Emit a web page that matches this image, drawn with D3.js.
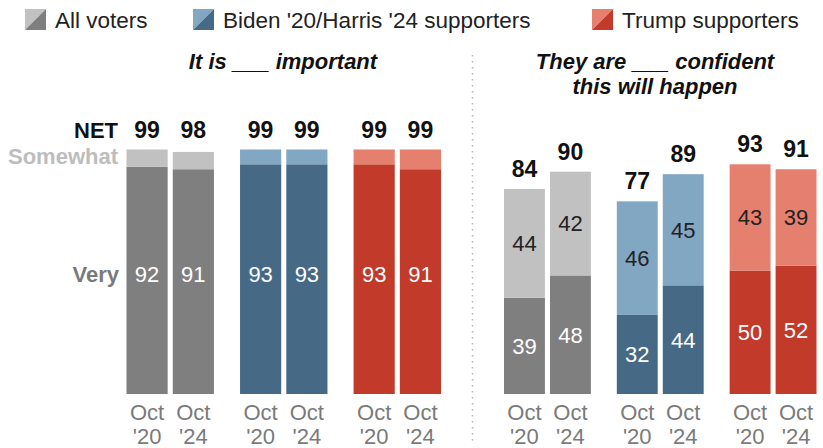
<!DOCTYPE html>
<html>
<head>
<meta charset="utf-8">
<script src="https://cdn.jsdelivr.net/npm/d3@7"></script>
<style>
  html, body { margin: 0; padding: 0; background: #fff; }
  svg { display: block; font-family: "Liberation Sans", Arial, sans-serif; }
</style>
</head>
<body>
<svg id="chart" width="823" height="448"></svg>
<script>
// Groups of respondents and survey waves
const groups = ["All voters", "Biden '20/Harris '24 supporters", "Trump supporters"];
const waves = ["Oct '20", "Oct '24"];

// "It is ___ important"
const importantVery = [[92, 91], [93, 93], [93, 91]];
const importantSomewhat = [[7, 7], [6, 6], [6, 8]];
const importantNet = [[99, 98], [99, 99], [99, 99]];

// "They are ___ confident this will happen"
const confidentVery = [[39, 48], [32, 44], [50, 52]];
const confidentSomewhat = [[44, 42], [46, 45], [43, 39]];
const confidentNet = [[84, 90], [77, 89], [93, 91]];

// Colour per group: [dark = Very, light = Somewhat]
const colors = [["#7f7f7f", "#c1c1c1"], ["#466a86", "#82a7c2"], ["#c13a2a", "#e5806f"]];

const svg = d3.select("#chart");
const FONT = 22;
const LEGEND_FONT = 22.5;
const NET_FONT = 23;

const y = d3.scaleLinear().domain([0, 100]).range([394, 147]);

// Legend
const legendX = [25, 193, 592];
const legend = svg.append("g");
groups.forEach((g, i) => {
  const lg = legend.append("g").attr("transform", `translate(${legendX[i]},9)`);
  lg.append("path").attr("d", "M0,0H21L0,21Z").attr("fill", colors[i][1]);
  lg.append("path").attr("d", "M21,0V21H0Z").attr("fill", colors[i][0]);
  lg.append("text").attr("x", 30).attr("y", 18.5).attr("font-size", LEGEND_FONT)
    .attr("fill", "#222").text(g);
});

// Dotted divider between the two panels
svg.append("line")
  .attr("x1", 472.5).attr("x2", 472.5).attr("y1", 55).attr("y2", 442)
  .attr("stroke", "#b5b5b5").attr("stroke-width", 1.5).attr("stroke-dasharray", "1.5,4.5");

function panel(opts) {
  const xg = d3.scaleBand().domain(groups).range(opts.range).paddingInner(0.23).paddingOuter(0);
  const xw = d3.scaleBand().domain(waves).range([0, xg.bandwidth()]).paddingInner(0.11);
  const g = svg.append("g");

  // title
  const t = g.append("text").attr("text-anchor", "middle")
    .attr("font-size", FONT).attr("font-weight", "bold").attr("font-style", "italic")
    .attr("fill", "#111");
  opts.title.forEach((line, i) => {
    t.append("tspan").attr("x", opts.titleX).attr("y", 69 + i * 24.5).text(line);
  });

  groups.forEach((grp, gi) => {
    waves.forEach((w, wi) => {
      const x0 = xg(grp) + xw(w);
      const bw = xw.bandwidth();
      const very = opts.very[gi][wi];
      const some = opts.somewhat[gi][wi];
      const net = opts.net[gi][wi];

      g.append("rect").attr("x", x0).attr("width", bw)
        .attr("y", y(very)).attr("height", y(0) - y(very))
        .attr("fill", colors[gi][0]);
      g.append("rect").attr("x", x0).attr("width", bw)
        .attr("y", y(very + some)).attr("height", y(very) - y(very + some))
        .attr("fill", colors[gi][1]);

      const cx = x0 + bw / 2;
      // Very value
      g.append("text").attr("x", cx)
        .attr("y", opts.veryLabelY ? opts.veryLabelY : (y(very) + y(0)) / 2)
        .attr("dy", "0.36em").attr("text-anchor", "middle").attr("font-size", FONT)
        .attr("fill", "#fff").text(very);
      // Somewhat value
      if (opts.showSomewhat) {
        g.append("text").attr("x", cx).attr("y", (y(very) + y(very + some)) / 2)
          .attr("dy", "0.36em").attr("text-anchor", "middle").attr("font-size", FONT)
          .attr("fill", "#222").text(some);
      }
      // NET value
      g.append("text").attr("x", cx)
        .attr("y", opts.netY ? opts.netY : y(very + some) - 12)
        .attr("text-anchor", "middle").attr("font-size", NET_FONT).attr("font-weight", "bold")
        .attr("fill", "#111").text(net);
      // wave label
      const parts = w.split(" ");
      g.append("text").attr("x", cx).attr("y", 420).attr("text-anchor", "middle")
        .attr("font-size", FONT).attr("fill", "#7a7a7a").text(parts[0]);
      g.append("text").attr("x", cx).attr("y", 443.5).attr("text-anchor", "middle")
        .attr("font-size", FONT).attr("fill", "#7a7a7a").text(parts[1]);
    });
  });
}

panel({
  range: [126.5, 441],
  titleX: 283,
  title: ["It is ___ important"],
  very: importantVery, somewhat: importantSomewhat, net: importantNet,
  netY: 138, veryLabelY: 274, showSomewhat: false
});

panel({
  range: [504, 816.5],
  titleX: 655,
  title: ["They are ___ confident", "this will happen"],
  very: confidentVery, somewhat: confidentSomewhat, net: confidentNet,
  showSomewhat: true
});

// Row labels
svg.append("text").attr("x", 118).attr("y", 138).attr("text-anchor", "end")
  .attr("font-size", FONT).attr("font-weight", "bold").attr("fill", "#111").text("NET");
svg.append("text").attr("x", 118).attr("y", 164).attr("text-anchor", "end")
  .attr("font-size", FONT).attr("font-weight", "bold").attr("fill", "#bdbdbd").text("Somewhat");
svg.append("text").attr("x", 119).attr("y", 282).attr("text-anchor", "end")
  .attr("font-size", FONT).attr("font-weight", "bold").attr("fill", "#7a7a7a").text("Very");
</script>
</body>
</html>
